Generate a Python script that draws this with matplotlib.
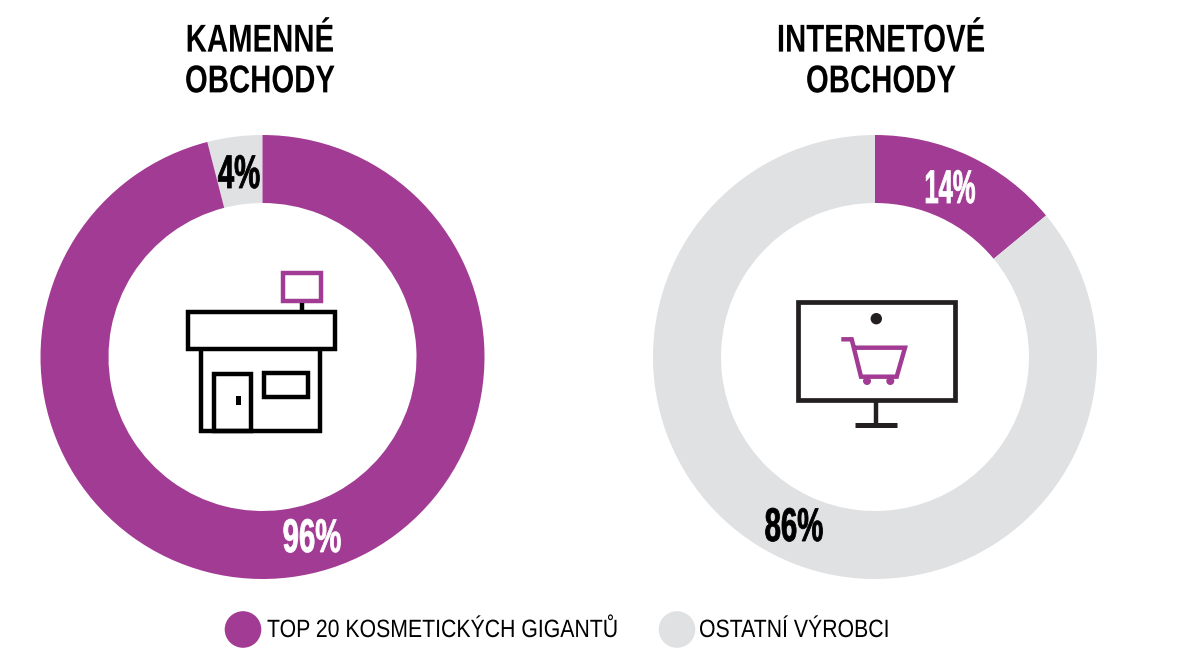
import matplotlib
matplotlib.use("Agg")
import matplotlib.pyplot as plt
from matplotlib.patches import Rectangle, Circle
from matplotlib.patheffects import AbstractPathEffect
from matplotlib.transforms import Affine2D

W, H = 1186, 664
PURPLE = "#a23b93"
GRAY = "#e0e1e3"
DARK = "#231f20"
FONT = ["Liberation Sans", "DejaVu Sans"]

# data
store_title = "KAMENNÉ\nOBCHODY"
online_title = "INTERNETOVÉ\nOBCHODY"
legend_labels = ["TOP 20 KOSMETICKÝCH GIGANTŮ", "OSTATNÍ VÝROBCI"]
store_values = [4, 96]
online_values = [14, 86]

fig = plt.figure(figsize=(W / 100, H / 100), dpi=100)
ax = fig.add_axes([0, 0, 1, 1])


class Squeeze(AbstractPathEffect):
    """Condense text around x0 (no narrow font is installed), optionally fatten it."""

    def __init__(self, sx, x0, fatten=0.0):
        super().__init__()
        self.sx, self.x0, self.fatten = sx, x0, fatten

    def draw_path(self, renderer, gc, tpath, affine, rgbFace=None):
        squeeze = Affine2D().translate(-self.x0, 0).scale(self.sx, 1).translate(self.x0, 0)
        gc0 = renderer.new_gc()
        gc0.copy_properties(gc)
        gc0.set_linewidth(self.fatten)
        gc0.set_foreground(rgbFace)
        renderer.draw_path(gc0, tpath, affine + squeeze, rgbFace)
        gc0.restore()


def fy(y):
    # picture pixels count from the top, the axes from the bottom
    return H - y


def donut(values, colors, cx, cy, counterclock):
    ax.pie(values, colors=colors, center=(cx, fy(cy)), radius=222, startangle=90,
           counterclock=counterclock, wedgeprops=dict(width=68, linewidth=0))


def box(x0, y0, x1, y1, color, lw=3.2):
    ax.add_patch(Rectangle((x0, fy(y1)), x1 - x0, y1 - y0, fill=False, ec=color,
                           lw=lw, joinstyle="miter"))


def line(xs, ys, color, lw=3.2):
    ax.plot(xs, [fy(y) for y in ys], color=color, lw=lw, solid_capstyle="butt",
            solid_joinstyle="miter")


def pct(value, x, y, color, sx=0.62):
    ax.text(x, fy(y), f"{value}%", ha="center", va="center", color=color,
            fontsize=34, fontweight="bold", family=FONT,
            path_effects=[Squeeze(sx, x, fatten=0.6)])


donut(store_values, [GRAY, PURPLE], 262.5, 357, True)
donut(online_values, [PURPLE, GRAY], 875, 357, False)
ax.set_xlim(0, W)
ax.set_ylim(0, H)
ax.set_aspect("equal")
ax.axis("off")

for title, x in [(store_title, 260), (online_title, 881)]:
    ax.text(x, fy(62), title, ha="center", va="center", fontsize=28, fontweight="bold",
            family=FONT, color="black", linespacing=1.17,
            path_effects=[Squeeze(0.755, x)])

pct(store_values[0], 239, 176, "black")
pct(store_values[1], 312, 540, "white")
pct(online_values[0], 950, 191, "white", sx=0.54)
pct(online_values[1], 794, 529, "black")

# shop icon
box(282.7, 273.3, 320.7, 300.7, PURPLE)
line([301.7, 301.7], [302.7, 310], "black")
box(187.5, 312, 335.2, 348.7, "black")
line([200.7, 200.7], [350, 432.7], "black")
line([320, 320], [350, 432.7], "black")
line([199, 322], [430.7, 430.7], "black")
box(213.5, 374, 251.3, 431, "black")
box(264, 373.3, 308, 397, "black")
ax.add_patch(Rectangle((236, fy(405)), 5.3, 9, fc="black", ec="none"))

# monitor icon
box(797.7, 301.7, 955, 399.7, DARK, lw=3.4)
ax.add_patch(Circle((876.3, fy(318.7)), 5.7, fc=DARK, ec="none"))
line([876.3, 876.3], [402, 425], DARK, lw=3.2)
line([855, 897.3], [424.7, 424.7], DARK, lw=3.6)
line([841.3, 851.7, 861, 896.7, 905, 854], [339.3, 339.3, 376.7, 376.7, 347.7, 347.7],
     PURPLE, lw=3.2)
for wx in [867, 890.3]:
    ax.add_patch(Circle((wx, fy(381)), 4, fc=PURPLE, ec="none"))

# legend
for label, color, cx, tx in zip(legend_labels, [PURPLE, GRAY], [243, 677], [267, 699]):
    ax.add_patch(Circle((cx, fy(629.5)), 18.3, fc=color, ec="none"))
    ax.text(tx, fy(630), label, ha="left", va="center", fontsize=18, family=FONT,
            color="black", path_effects=[Squeeze(0.85, tx)])

fig.savefig("out.png", dpi=100, facecolor="white")
